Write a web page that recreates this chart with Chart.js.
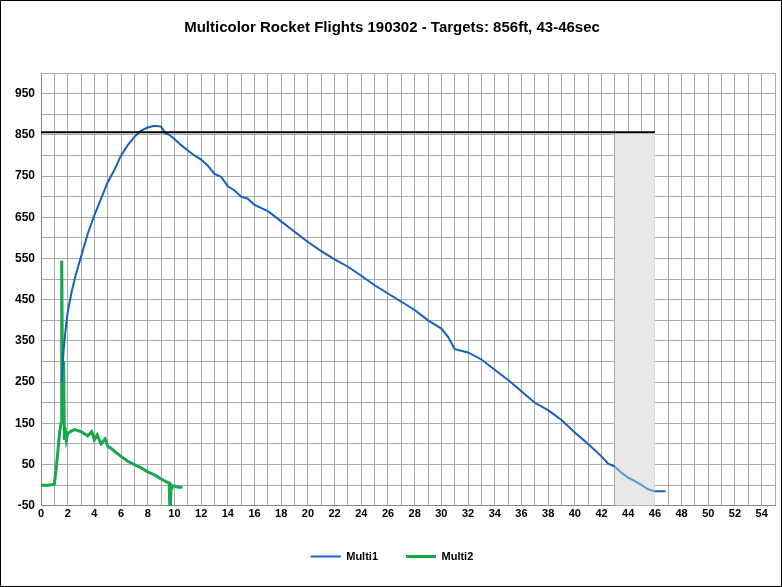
<!DOCTYPE html>
<html><head><meta charset="utf-8">
<script src="https://cdn.jsdelivr.net/npm/chart.js@4/dist/chart.umd.min.js"></script>
<style>
html,body{margin:0;padding:0;background:#fff}
#w{width:780px;height:585px;border:1px solid #000;position:relative}
</style></head><body>
<div id="w"><canvas id="c" width="780" height="585"></canvas></div>
<script>
const titleText = "Multicolor Rocket Flights 190302 - Targets: 856ft, 43-46sec";
const multi1X = [1.55,1.7,1.85,2,2.3,2.6,3,3.5,4,4.5,5,5.5,6,6.5,7,7.5,8,8.5,9,9.3,9.6,10,10.5,11,11.5,12,12.5,13,13.5,14,14.5,15,15.5,16,17,18,19,20,21,22,23,24,25,26,27,28,29,30,30.5,31,32,33,34,35,36,37,38,39,40,41,42,42.5,43,43.5,44,44.5,45,45.5,46,46.8];
const multi1Y = [250,330,380,420,470,510,555,610,655,695,735,765,800,825,845,860,868,872,870,855,850,840,825,812,800,790,775,755,748,725,715,700,695,680,665,640,615,590,568,548,530,508,485,465,445,425,400,380,360,330,322,305,280,255,228,200,182,158,128,100,70,52,45,30,18,10,0,-10,-15,-15];
const multi2X = [0,0.5,1,1.2,1.4,1.5,1.55,1.6,1.65,1.7,1.75,1.8,1.9,2,2.2,2.5,3,3.5,3.8,4,4.2,4.5,4.8,5,5.3,5.6,6,6.5,7,7.5,8,8.5,9,9.3,9.6,9.65,9.7,9.75,9.8,10,10.3,10.6];
const multi2Y = [0,0,2,60,130,150,545,320,200,300,110,140,110,125,130,135,130,120,130,110,122,100,112,95,88,80,70,58,50,42,32,25,15,10,5,-50,-50,0,-2,-2,-5,-5];
const targetAlt = 856;
const targetStart = 43, targetEnd = 46;
const yTickLabels = [-50,50,150,250,350,450,550,650,750,850,950];

const pts = (xs, ys) => xs.map((x, i) => ({x, y: ys[i]}));
new Chart(document.getElementById('c'), {
  type: 'line',
  data: { datasets: [
    { label: 'window', data: [{x:targetStart,y:targetAlt},{x:targetEnd,y:targetAlt}], borderWidth:0, pointRadius:0, backgroundColor:'#e8e8e8', fill:'start', order:5 },
    { label: 'target', data: [{x:0,y:targetAlt},{x:targetEnd,y:targetAlt}], borderColor:'#000', borderWidth:2, pointRadius:0, fill:false, order:1 },
    { label: 'Multi1', data: pts(multi1X, multi1Y), borderColor:'#1560bd', backgroundColor:'#1560bd', borderWidth:2, pointRadius:0, fill:false, order:2,
      segment: { borderColor: ctx => ctx.p0.parsed.x >= targetStart && ctx.p1.parsed.x <= targetEnd ? '#5a9ad5' : '#1560bd' } },
    { label: 'Multi2', data: pts(multi2X, multi2Y), borderColor:'#16a84a', backgroundColor:'#16a84a', borderWidth:3, pointRadius:0, fill:false, order:3 }
  ]},
  options: {
    responsive:false, animation:false,
    layout:{padding:{left:8,right:6,top:8,bottom:14}},
    plugins:{
      title:{display:true,text:titleText,color:'#000',font:{family:'Liberation Sans',size:15,weight:'bold'},padding:{top:10,bottom:36}},
      legend:{position:'bottom',align:'center',labels:{filter:i=>i.text==='Multi1'||i.text==='Multi2',usePointStyle:true,pointStyle:'line',pointStyleWidth:30,boxHeight:3,padding:28,color:'#000',font:{family:'Liberation Sans',size:11,weight:'bold'}}},
      tooltip:{enabled:false}
    },
    scales:{
      x:{type:'linear',min:0,max:55,border:{color:'#888'},grid:{color:'#aaa',drawTicks:false},
        ticks:{stepSize:1,autoSkip:false,maxRotation:0,color:'#000',font:{family:'Liberation Sans',size:11,weight:'bold'},padding:2,
          callback:v=>(v%2===0 && v<=54)?String(v):''}},
      y:{min:-50,max:1000,border:{color:'#888'},grid:{color:'#aaa',drawTicks:false},
        ticks:{stepSize:50,autoSkip:false,color:'#000',font:{family:'Liberation Sans',size:12,weight:'bold'},padding:6,
          callback:v=>yTickLabels.includes(v)?String(v):''}}
    }
  }
});
</script></body></html>
